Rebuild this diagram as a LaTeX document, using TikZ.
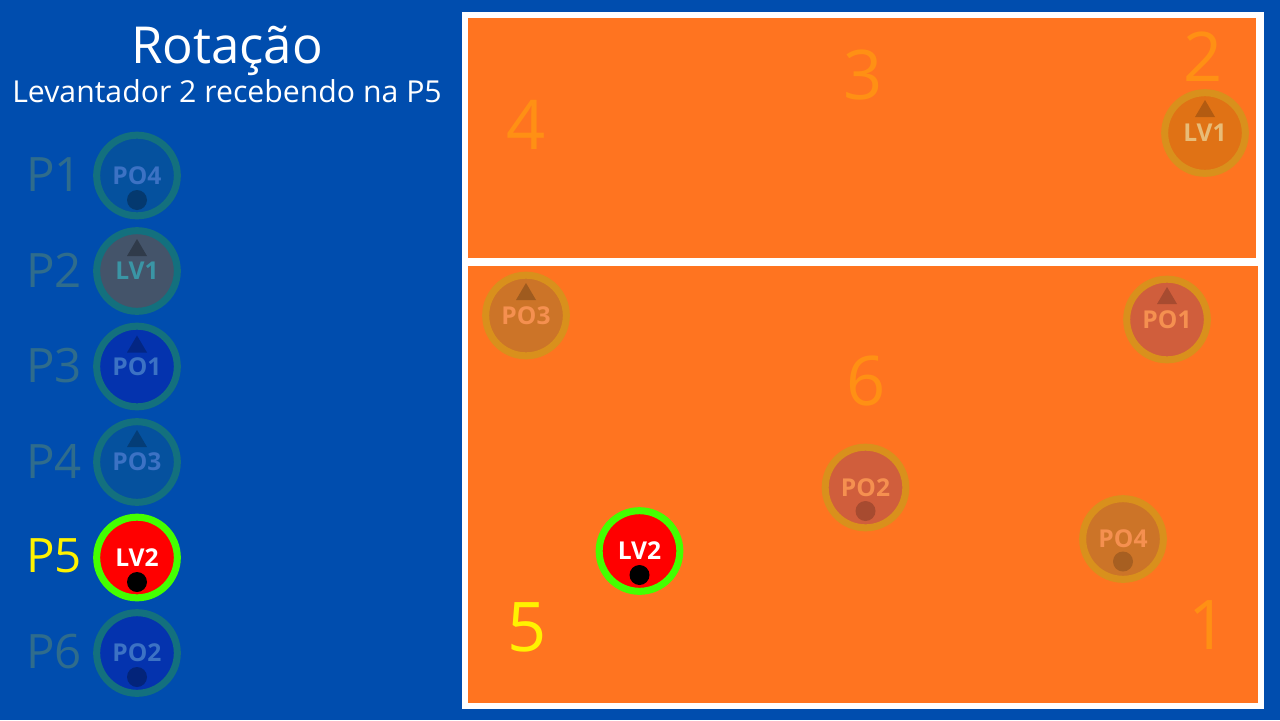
\documentclass[tikz,border=0pt]{standalone}
\usepackage{fontspec}
\setmainfont{Open Sans}
\definecolor{fundo}{RGB}{0,77,174}
\definecolor{quadra}{RGB}{255,116,32}
\definecolor{zona}{RGB}{255,144,20}
\definecolor{rotulo}{RGB}{47,108,140}
\definecolor{aro}{RGB}{19,112,126}
\definecolor{aroq}{RGB}{217,144,28}
\definecolor{verde}{RGB}{68,255,0}
\definecolor{azulesc}{RGB}{5,81,158}
\definecolor{azulvivo}{RGB}{4,51,174}
\definecolor{cinza}{RGB}{68,84,106}
\definecolor{txtazul}{RGB}{60,114,196}
\definecolor{txtteal}{RGB}{58,149,165}
\definecolor{laranjaesc}{RGB}{224,114,21}
\definecolor{marrom}{RGB}{204,116,40}
\definecolor{telha}{RGB}{208,94,60}
\definecolor{txtq}{RGB}{245,144,80}
\begin{document}
\begin{tikzpicture}[x=0.02cm, y=-0.02cm,
    player/.style={circle, minimum size=45.9pt, inner sep=0pt, line width=4pt,
        font=\bfseries\fontsize{14}{14}\selectfont},
    spot/.style={font=\fontsize{27}{27}\selectfont, text=rotulo},
    zone/.style={font=\fontsize{39}{39}\selectfont, text=zona}]
    \useasboundingbox (0,0) rectangle (1280,720);
    \fill[fundo] (0,0) rectangle (1280,720);

    % titulo
    \node[anchor=base, text=white, font=\fontsize{29}{29}\selectfont] (titulo) at (227,63) {Rotação};
    \node[anchor=base, text=white, font=\fontsize{17.2}{17.2}\selectfont] (subtitulo) at (227,102) {Levantador 2 recebendo na P5};

    % posicoes
    \node[spot] (p1) at (54,175) {P1};
    \node[spot] (p2) at (54,270) {P2};
    \node[spot] (p3) at (54,366) {P3};
    \node[spot] (p4) at (54,461) {P4};
    \node[spot, text=yellow] (p5) at (54,556) {P5};
    \node[spot] (p6) at (54,652) {P6};

    \node[player, draw=aro, fill=azulesc, text=txtazul] (c1) at (137,175.5) {PO4};
    \node[player, draw=aro, fill=cinza, text=txtteal] (c2) at (137,271) {LV1};
    \node[player, draw=aro, fill=azulvivo, text=txtazul] (c3) at (137,366.5) {PO1};
    \node[player, draw=aro, fill=azulesc, text=txtazul] (c4) at (137,462) {PO3};
    \node[player, draw=verde, fill=red, text=white] (c5) at (137,557.5) {LV2};
    \node[player, draw=aro, fill=azulvivo, text=txtazul] (c6) at (137,653) {PO2};

    \fill[azulesc!70!black] ([shift={(0,24.5)}]c1.center) circle[radius=10];
    \fill[cinza!70!black] ([shift={(-10,-15)}]c2.center) -- ([shift={(10,-15)}]c2.center) -- ([shift={(0,-32)}]c2.center) -- cycle;
    \fill[azulvivo!75!black] ([shift={(-10,-14)}]c3.center) -- ([shift={(10,-14)}]c3.center) -- ([shift={(0,-31)}]c3.center) -- cycle;
    \fill[azulesc!75!black] ([shift={(-10,-15)}]c4.center) -- ([shift={(10,-15)}]c4.center) -- ([shift={(0,-32)}]c4.center) -- cycle;
    \fill[black] ([shift={(0,24.5)}]c5.center) circle[radius=10];
    \fill[azulvivo!70!black] ([shift={(0,24)}]c6.center) circle[radius=10];

    % quadra
    \fill[white] (462,12) rectangle (1264,709);
    \fill[quadra] (468,18) rectangle (1256,258);
    \fill[quadra] (468,266) rectangle (1258,703);

    \node[zone] (z4) at (526,125) {4};
    \node[zone] (z3) at (863,75) {3};
    \node[zone] (z2) at (1203,57) {2};
    \node[zone] (z6) at (866,381) {6};
    \node[zone, text=yellow] (z5) at (527,627) {5};
    \node[zone] (z1) at (1208,625) {1};

    \node[player, draw=aroq, fill=laranjaesc, text=aroq!60!white] (lv1) at (1205,133) {LV1};
    \node[player, draw=aroq, fill=marrom, text=txtq] (po3) at (526,315.5) {PO3};
    \node[player, draw=aroq, fill=telha, text=txtq] (po1) at (1167,319.5) {PO1};
    \node[player, draw=aroq, fill=telha, text=txtq] (po2) at (865.5,487.5) {PO2};
    \node[player, draw=aroq, fill=marrom, text=txtq] (po4) at (1123,539) {PO4};
    \node[player, draw=verde, fill=red, text=white] (lv2) at (639.5,551) {LV2};

    \fill[laranjaesc!80!black] ([shift={(-10,-16)}]lv1.center) -- ([shift={(10,-16)}]lv1.center) -- ([shift={(0,-33)}]lv1.center) -- cycle;
    \fill[marrom!78!black] ([shift={(-10,-15.5)}]po3.center) -- ([shift={(10,-15.5)}]po3.center) -- ([shift={(0,-32.5)}]po3.center) -- cycle;
    \fill[telha!80!black] ([shift={(-10,-15.5)}]po1.center) -- ([shift={(10,-15.5)}]po1.center) -- ([shift={(0,-32.5)}]po1.center) -- cycle;
    \fill[telha!80!black] ([shift={(0,23.5)}]po2.center) circle[radius=10];
    \fill[marrom!82!black] ([shift={(0,22.5)}]po4.center) circle[radius=10];
    \fill[black] ([shift={(0,24)}]lv2.center) circle[radius=10];
\end{tikzpicture}
\end{document}
